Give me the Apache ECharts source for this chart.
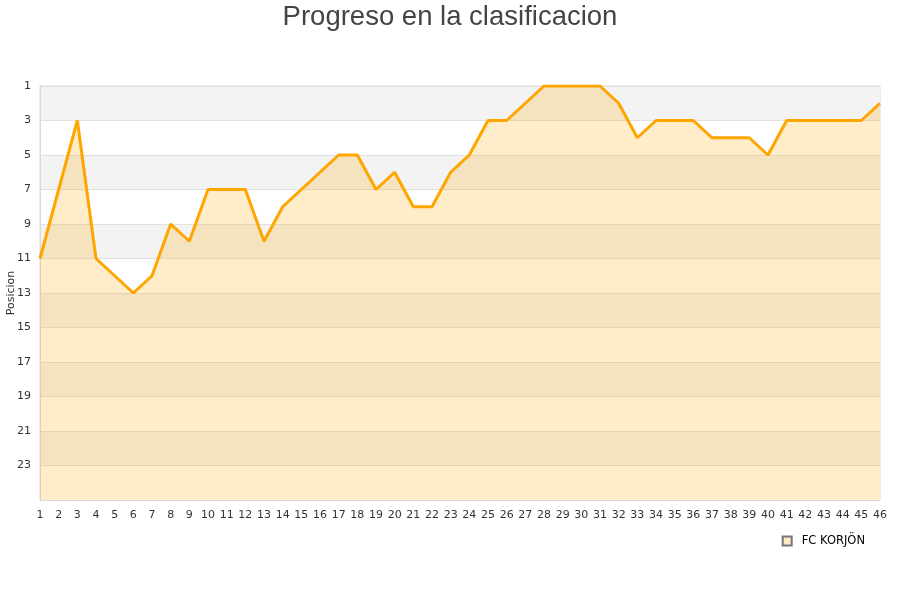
<!DOCTYPE html>
<html>
<head>
<meta charset="utf-8">
<script src="https://cdn.jsdelivr.net/npm/echarts@6/dist/echarts.min.js"></script>
<style>html,body{margin:0;padding:0;background:#fff}#c{width:900px;height:600px}</style>
</head>
<body>
<div id="c"></div>
<script>
var rounds = [];
for (var i = 1; i <= 46; i++) rounds.push(String(i));
var positions = [11,7,3,11,12,13,12,9,10,7,7,7,10,8,7,6,5,5,7,6,8,8,6,5,3,3,2,1,1,1,1,2,4,3,3,3,4,4,4,5,3,3,3,3,3,2];
var teamName = 'FC KORJÖN';
var titleText = 'Progreso en la clasificacion';
var yName = 'Posicion';

var chart = echarts.init(document.getElementById('c'));
chart.setOption({
  animation: false,
  title: {
    text: titleText, left: 'center', top: -2,
    textStyle: { fontFamily: 'Liberation Sans, Arial, sans-serif', fontSize: 27.5, fontWeight: 'normal', color: '#444' }
  },
  legend: {
    data: [{ name: teamName, icon: 'rect' }],
    right: 30, top: 530, itemWidth: 9, itemHeight: 9, itemGap: 6,
    textStyle: { fontFamily: 'DejaVu Sans, sans-serif', fontSize: 11.5, color: '#000', padding: [0, 0, 0, 5] }
  },
  grid: { left: 40, right: 20, top: 86, bottom: 100, outerBoundsMode: 'none', containLabel: false, show: true, borderColor: '#d9d9d9', borderWidth: 1, backgroundColor: 'transparent' },
  xAxis: {
    type: 'category', data: rounds, boundaryGap: false,
    axisLine: { show: true, lineStyle: { color: '#d9d9d9' } },
    axisTick: { show: false },
    axisLabel: { interval: 0, margin: 10, fontFamily: 'DejaVu Sans, sans-serif', fontSize: 11, color: '#333' },
    splitLine: { show: false }
  },
  yAxis: {
    type: 'value', inverse: true, min: 1, max: 25, interval: 2,
    name: yName, nameLocation: 'middle', nameGap: 23, nameRotate: 90, nameMoveOverlap: false,
    nameTextStyle: { fontFamily: 'DejaVu Sans, sans-serif', fontSize: 11, color: '#333' },
    axisLine: { show: true, lineStyle: { color: '#d9d9d9' } },
    axisTick: { show: false },
    axisLabel: { showMaxLabel: false, margin: 9, fontFamily: 'DejaVu Sans, sans-serif', fontSize: 11, color: '#333' },
    splitLine: { show: true, lineStyle: { color: '#e0e0e0', width: 1 } },
    splitArea: { show: true, areaStyle: { color: ['#f3f3f3', '#ffffff'] } }
  },
  series: [{
    name: teamName, type: 'line', data: positions,
    showSymbol: false, symbol: 'none',
    lineStyle: { color: '#ffa500', width: 3 },
    itemStyle: { color: '#fde9c4', borderColor: '#777', borderWidth: 1 },
    areaStyle: { color: 'rgba(255,165,0,0.21)', opacity: 1, origin: 'end' }
  }]
});
</script>
</body>
</html>
